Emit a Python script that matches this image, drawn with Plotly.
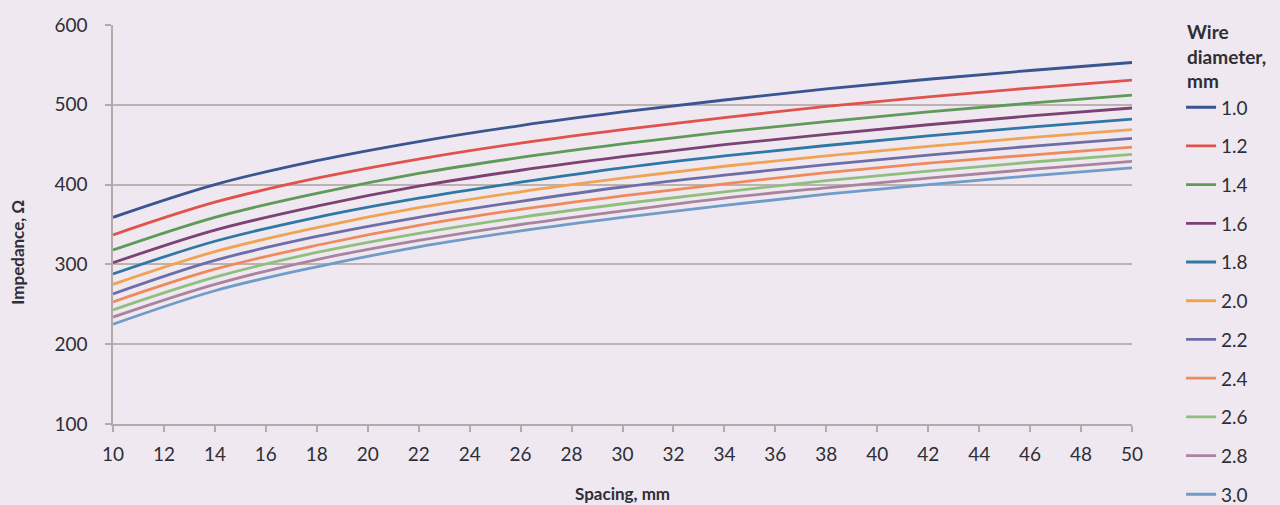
import plotly.graph_objects as go

spacing_mm = [10, 14, 18, 22, 26, 30, 34, 38, 42, 46, 50]
diameters = ["1.0", "1.2", "1.4", "1.6", "1.8", "2.0", "2.2", "2.4", "2.6", "2.8", "3.0"]

z_10 = [359, 400, 430, 454, 474, 491, 506, 520, 532, 543, 553]
z_12 = [337, 378, 408, 432, 452, 469, 484, 498, 510, 521, 531]
z_14 = [318, 359, 389, 414, 434, 451, 466, 479, 491, 502, 512]
z_16 = [302, 343, 373, 398, 418, 435, 450, 463, 475, 486, 496]
z_18 = [288, 329, 359, 383, 403, 421, 436, 449, 461, 472, 482]
z_20 = [275, 316, 346, 371, 391, 408, 423, 436, 448, 459, 469]
z_22 = [263, 305, 335, 359, 379, 397, 412, 425, 437, 448, 458]
z_24 = [253, 294, 324, 349, 369, 386, 401, 415, 427, 437, 447]
z_26 = [243, 284, 315, 339, 359, 376, 391, 405, 417, 428, 438]
z_28 = [234, 275, 306, 330, 350, 367, 383, 396, 408, 419, 429]
z_30 = [225, 267, 297, 322, 342, 359, 374, 388, 400, 411, 421]

series = [z_10, z_12, z_14, z_16, z_18, z_20, z_22, z_24, z_26, z_28, z_30]
colors = ["#3a5590", "#e0524c", "#5e9a58", "#7c4274", "#2f78a6", "#f0a352",
          "#6e6ea6", "#ee8a5c", "#8fbf7e", "#a8849e", "#6f9cc8"]

x_ticks = list(range(10, 52, 2))
y_ticks = [100, 200, 300, 400, 500, 600]

BG = "#efe8f0"
FONT = "Lato, 'Open Sans', sans-serif"
TXT = "#2e2e36"

fig = go.Figure()
for name, vals, col in zip(diameters, series, colors):
    fig.add_trace(go.Scatter(
        x=spacing_mm, y=vals, name=name, mode="lines",
        line=dict(color=col, width=2.8, shape="spline", smoothing=1.0),
        legendgroup=name,
    ))

fig.update_layout(
    width=1280, height=505,
    margin=dict(l=113, r=148, t=25, b=81, autoexpand=False),
    paper_bgcolor=BG, plot_bgcolor=BG,
    font=dict(family=FONT, size=19, color=TXT),
    showlegend=True,
    legend=dict(
        xref="container", yref="container",
        x=0.9227, xanchor="left", y=0.825, yanchor="top",
        bgcolor="rgba(0,0,0,0)",
        font=dict(size=19, color=TXT),
        tracegroupgap=11,
        itemwidth=30,
        maxheight=1000,
    ),
    xaxis=dict(
        range=[10, 50], tickmode="array", tickvals=x_ticks,
        showgrid=False, zeroline=False,
        showline=True, linecolor="#b5aaaa", linewidth=1.5,
        ticks="outside", ticklen=6, tickcolor="#b5aaaa", tickwidth=1.5,
        tickfont=dict(size=19, color=TXT), ticklabelstandoff=6,
    ),
    yaxis=dict(
        range=[100, 600], tickmode="array", tickvals=y_ticks,
        showgrid=True, gridcolor="#bdb2b2", gridwidth=1.5,
        zeroline=False,
        showline=True, linecolor="#b5aaaa", linewidth=1.5,
        ticks="outside", ticklen=6, tickcolor="#b5aaaa", tickwidth=1.5,
        tickfont=dict(size=19, color=TXT), ticklabelstandoff=14,
    ),
    annotations=[
        dict(text="<b>Wire<br>diameter,<br>mm</b>", xref="paper", yref="paper",
             x=1.052, y=1.018, xanchor="left", yanchor="top", align="left",
             showarrow=False, font=dict(size=19, color=TXT)),
        dict(text="<b>Spacing, mm</b>", xref="paper", yref="paper", x=0.5, y=-0.175,
             xanchor="center", yanchor="middle", showarrow=False,
             font=dict(size=17, color=TXT)),
        dict(text="<b>Impedance, Ω</b>", xref="paper", yref="paper", x=-0.094, y=0.43,
             xanchor="center", yanchor="middle", showarrow=False, textangle=-90,
             font=dict(size=17, color=TXT)),
    ],
)

fig.write_html(
    "out.html",
    config={"displayModeBar": False},
    post_script="document.body.style.margin='0';document.body.style.overflow='hidden';",
)
